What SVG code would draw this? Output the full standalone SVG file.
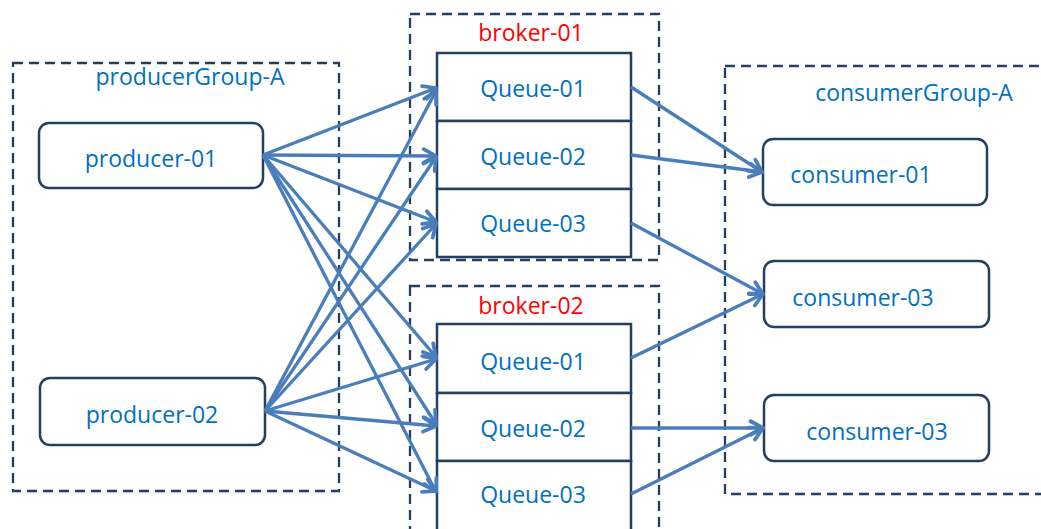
<svg xmlns="http://www.w3.org/2000/svg" width="1041" height="529" viewBox="0 0 1041 529">
<style>
.grp{fill:none;stroke:#243F60;stroke-width:2.3;stroke-dasharray:10 6}
.node{fill:#fff;stroke:#243F60;stroke-width:2.5}
.t{font-family:"Open Sans","Noto Sans",sans-serif;font-size:23px;fill:#0070C0;text-anchor:middle}
.r{fill:#FF0000}
.c{fill:none;stroke:#4A7EBB;stroke-width:3.3}
</style>
<defs>
<marker id="arr" markerUnits="userSpaceOnUse" markerWidth="18" markerHeight="18" viewBox="0 0 16 16" refX="14" refY="8" orient="auto">
<path d="M3,2 L14,8 L3,14" fill="none" stroke="#4A7EBB" stroke-width="3.3" stroke-linecap="round" stroke-linejoin="round"/>
</marker>
</defs>
<rect width="1041" height="529" fill="#fff"/>
<g id="producerGroup-A">
<rect class="grp" x="13" y="63" width="326" height="428"/>
<text class="t" x="190" y="85">producerGroup-A</text>
</g>
<g id="broker-01">
<rect class="grp" x="410" y="14" width="249" height="246"/>
<text class="t r" x="531" y="41">broker-01</text>
</g>
<g id="broker-02">
<rect class="grp" x="410" y="286" width="249" height="260"/>
<text class="t r" x="531" y="314">broker-02</text>
</g>
<g id="consumerGroup-A">
<rect class="grp" x="725" y="66" width="330" height="428"/>
<text class="t" x="914" y="101">consumerGroup-A</text>
</g>
<g id="producer-01">
<rect class="node" x="39" y="123" width="224" height="65" rx="10"/>
<text class="t" x="151" y="167">producer-01</text>
</g>
<g id="producer-02">
<rect class="node" x="40" y="378" width="225" height="67" rx="10"/>
<text class="t" x="152" y="423">producer-02</text>
</g>
<g id="b1-queue-01">
<rect class="node" x="437" y="53" width="194" height="68"/>
<text class="t" x="533" y="97">Queue-01</text>
</g>
<g id="b1-queue-02">
<rect class="node" x="437" y="121" width="194" height="68"/>
<text class="t" x="533" y="165">Queue-02</text>
</g>
<g id="b1-queue-03">
<rect class="node" x="437" y="189" width="194" height="68"/>
<text class="t" x="533" y="232">Queue-03</text>
</g>
<g id="b2-queue-01">
<rect class="node" x="437" y="324" width="194" height="69"/>
<text class="t" x="533" y="370">Queue-01</text>
</g>
<g id="b2-queue-02">
<rect class="node" x="437" y="393" width="194" height="68"/>
<text class="t" x="533" y="437">Queue-02</text>
</g>
<g id="b2-queue-03">
<rect class="node" x="437" y="461" width="194" height="70"/>
<text class="t" x="533" y="503">Queue-03</text>
</g>
<g id="consumer-01">
<rect class="node" x="763" y="139" width="224" height="66" rx="10"/>
<text class="t" x="861" y="183">consumer-01</text>
</g>
<g id="consumer-03a">
<rect class="node" x="764" y="261" width="225" height="66" rx="10"/>
<text class="t" x="863" y="306">consumer-03</text>
</g>
<g id="consumer-03b">
<rect class="node" x="764" y="395" width="225" height="66" rx="10"/>
<text class="t" x="877" y="440">consumer-03</text>
</g>
<g id="connectors" class="c" marker-end="url(#arr)">
<line x1="263" y1="155" x2="436" y2="88"/>
<line x1="263" y1="155" x2="436" y2="156"/>
<line x1="263" y1="155" x2="436" y2="222"/>
<line x1="263" y1="155" x2="436" y2="357"/>
<line x1="263" y1="155" x2="436" y2="424"/>
<line x1="263" y1="155" x2="436" y2="492"/>
<line x1="265" y1="411" x2="436" y2="91"/>
<line x1="265" y1="411" x2="436" y2="157"/>
<line x1="265" y1="411" x2="436" y2="224"/>
<line x1="265" y1="411" x2="436" y2="359"/>
<line x1="265" y1="411" x2="436" y2="426"/>
<line x1="265" y1="411" x2="436" y2="491"/>
<line x1="631" y1="87" x2="762" y2="172"/>
<line x1="631" y1="155" x2="762" y2="172"/>
<line x1="631" y1="223" x2="763" y2="294"/>
<line x1="631" y1="358" x2="763" y2="294"/>
<line x1="631" y1="428" x2="763" y2="428"/>
<line x1="631" y1="494" x2="763" y2="428"/>
</g>
</svg>
